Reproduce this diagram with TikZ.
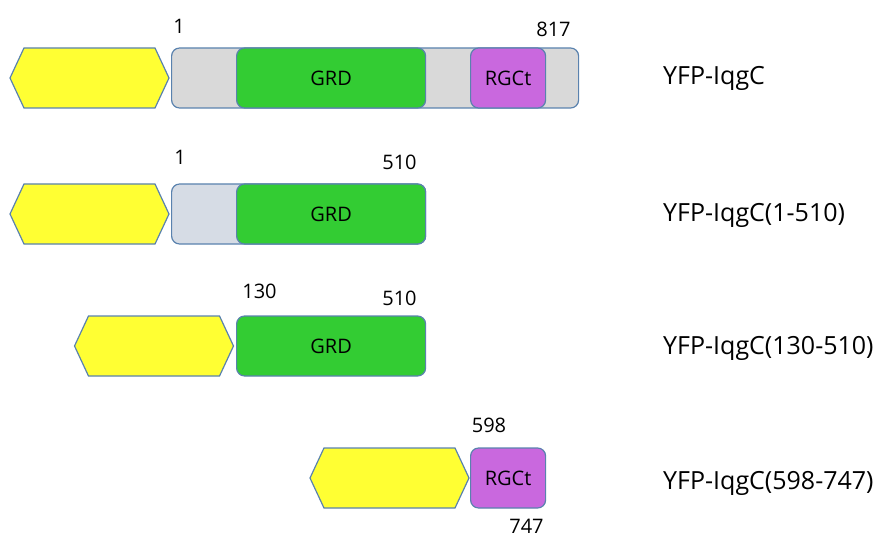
\documentclass[tikz,border=0pt]{standalone}
\usepackage{fontspec}
\setmainfont{Open Sans}
\usetikzlibrary{positioning, shapes.symbols}

\definecolor{edgeblue}{HTML}{5A82AE}
\definecolor{yfpyellow}{HTML}{FFFF33}
\definecolor{fullgray}{HTML}{D9D9D9}
\definecolor{bluegray}{HTML}{D6DCE5}
\definecolor{grdgreen}{HTML}{33CC33}
\definecolor{rgcviolet}{HTML}{C968DE}

\begin{document}
\begin{tikzpicture}[x=1pt, y=-1pt,
  outline/.style = {draw=edgeblue, line width=1.2pt},
  yfp/.style = {outline, signal, signal to=west and east,
    signal pointer angle=130, fill=yfpyellow,
    minimum width=159pt, minimum height=60pt, inner sep=0pt},
  bar/.style = {outline, rounded corners=8pt, minimum height=60pt,
    inner sep=0pt, anchor=west},
  grd/.style = {bar, fill=grdgreen, minimum width=189pt,
    font=\fontsize{20}{24}\selectfont},
  rgct/.style = {bar, fill=rgcviolet, minimum width=75pt,
    font=\fontsize{20}{24}\selectfont},
  num/.style = {anchor=base, inner sep=0pt,
    font=\fontsize{20}{24}\selectfont},
  construct/.style = {anchor=base west, inner sep=0pt,
    font=\fontsize{25}{30}\selectfont}]
  \useasboundingbox (0,0) rectangle (877,537);

  % full length
  \node[yfp] (yfp1) at (89.5,78) {};
  \node[bar, fill=fullgray, minimum width=407pt] (iqg1) at (171,78) {};
  \node[grd] (grd1) at (236,78) {GRD};
  \node[rgct] (rgct1) at (470,78) {RGCt};
  \node[num] (s1) at (179,34) {1};
  \node[num] (e1) at (553.5,37) {817};
  \node[construct] (c1) at (663,85) {YFP-IqgC};

  % 1-510
  \node[yfp] (yfp2) at (89.5,214) {};
  \node[bar, fill=bluegray, minimum width=254pt] (iqg2) at (171,214) {};
  \node[grd] (grd2) at (236,214) {GRD};
  \node[num] (s2) at (180,165) {1};
  \node[num] (e2) at (399.5,170) {510};
  \node[construct] (c2) at (663,222) {YFP-IqgC(1-510)};

  % 130-510
  \node[yfp] (yfp3) at (154,346) {};
  \node[grd] (grd3) at (236,346) {GRD};
  \node[num] (s3) at (259.5,298) {130};
  \node[num] (e3) at (399.5,305) {510};
  \node[construct] (c3) at (663,354) {YFP-IqgC(130-510)};

  % 598-747
  \node[yfp] (yfp4) at (389.5,478) {};
  \node[rgct] (rgct4) at (470,478) {RGCt};
  \node[num] (s4) at (489,432) {598};
  \node[num] (e4) at (526.5,533) {747};
  \node[construct] (c4) at (663,489) {YFP-IqgC(598-747)};
\end{tikzpicture}
\end{document}
